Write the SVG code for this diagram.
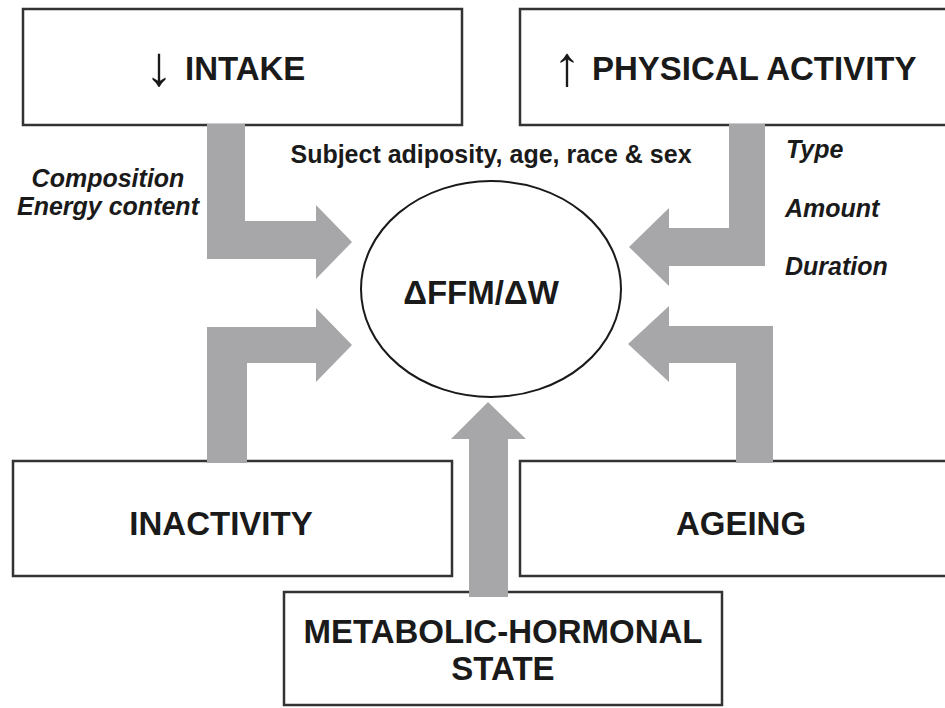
<svg xmlns="http://www.w3.org/2000/svg" width="945" height="708" viewBox="0 0 945 708">
<style>
.box{fill:#fff;stroke:#333;stroke-width:2.5}
.lbl{font-family:"Liberation Sans",Arial,sans-serif;font-weight:bold;font-size:33px;fill:#1a1a1a}
.arr{font-weight:normal;font-family:"Liberation Sans",Arial,sans-serif;font-size:56px}
.it{font-family:"Liberation Sans",Arial,sans-serif;font-weight:bold;font-style:italic;font-size:25px;fill:#1a1a1a}
.sub{font-family:"Liberation Sans",Arial,sans-serif;font-weight:bold;font-size:25px;fill:#1a1a1a}
.conn{fill:#a7a7aa;stroke:none}
</style>
<rect width="945" height="708" fill="#fff"/>
<g id="intake">
<rect class="box" x="23" y="9" width="439" height="116"/>
<text class="lbl" y="80"><tspan class="arr" x="145" y="85">↓</tspan><tspan x="185" y="80">INTAKE</tspan></text>
</g>
<g id="physical-activity">
<rect class="box" x="520" y="9" width="440" height="116"/>
<text class="lbl" y="80"><tspan class="arr" x="553" y="85">↑</tspan><tspan x="592" y="80">PHYSICAL ACTIVITY</tspan></text>
</g>
<g id="inactivity">
<rect class="box" x="13" y="461" width="439" height="115"/>
<text class="lbl" x="221" y="535" text-anchor="middle">INACTIVITY</text>
</g>
<g id="ageing">
<rect class="box" x="520" y="461" width="440" height="115"/>
<text class="lbl" x="741" y="535" text-anchor="middle">AGEING</text>
</g>
<g id="metabolic">
<rect class="box" x="284" y="592" width="438" height="113"/>
<text class="lbl" x="503" y="643" text-anchor="middle">METABOLIC-HORMONAL</text>
<text class="lbl" x="503" y="680" text-anchor="middle">STATE</text>
</g>
<g id="connectors">
<polygon class="conn" points="207,124 245,124 245,221 316,221 316,205 352,242 316,279 316,259 207,259"/>
<polygon class="conn" points="207,463 207,327 316,327 316,308 352,345 316,382 316,363 247,363 247,463"/>
<polygon class="conn" points="765,124 765,266 669,266 669,286 629,247 669,208 669,228 729,228 729,124"/>
<polygon class="conn" points="773,463 773,326 669,326 669,306 628,344 669,382 669,363 736,363 736,463"/>
<polygon class="conn" points="469,597 469,439 451,439 488,402 526,439 508,439 508,597"/>
</g>
<g id="center">
<ellipse cx="491" cy="289" rx="130" ry="108" fill="#fff" stroke="#1a1a1a" stroke-width="2"/>
<text class="lbl" x="481" y="304" text-anchor="middle" font-size="32">ΔFFM/ΔW</text>
</g>
<g id="labels">
<text class="sub" x="491" y="163" text-anchor="middle">Subject adiposity, age, race &amp; sex</text>
<text class="it" x="108" y="187" text-anchor="middle">Composition</text>
<text class="it" x="108" y="215" text-anchor="middle">Energy content</text>
<text class="it" x="786" y="158">Type</text>
<text class="it" x="785" y="217">Amount</text>
<text class="it" x="785" y="275">Duration</text>
</g>
</svg>
